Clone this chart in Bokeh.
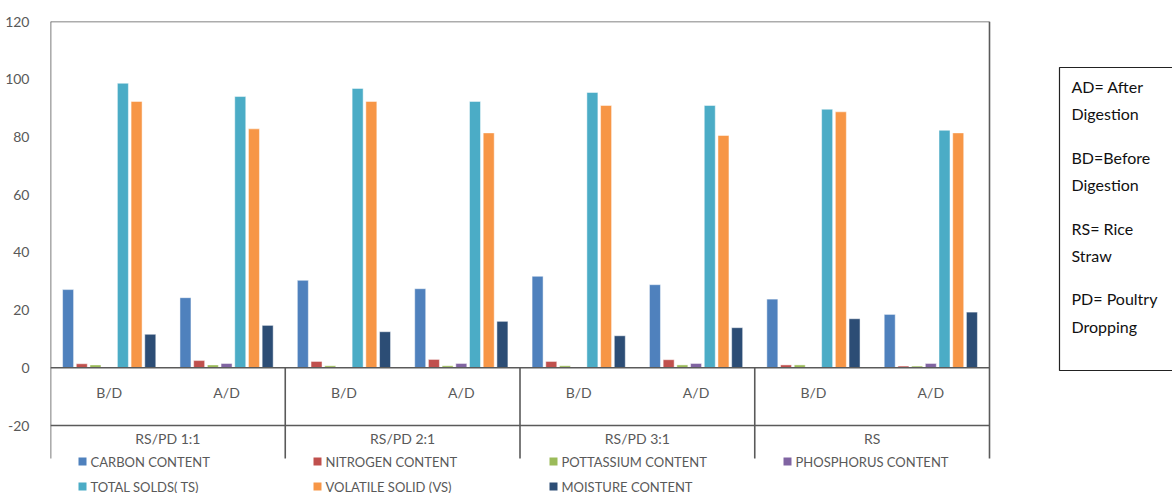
from bokeh.plotting import figure
from bokeh.models import Range1d, FixedTicker, ColumnDataSource
from bokeh.core.properties import value
from bokeh.embed import file_html
from bokeh.resources import INLINE

# --- data -------------------------------------------------------------
groups = ["RS/PD 1:1", "RS/PD 2:1", "RS/PD 3:1", "RS"]
stages = ["B/D", "A/D"]
series_names = ["CARBON CONTENT", "NITROGEN CONTENT", "POTTASSIUM CONTENT",
                "PHOSPHORUS CONTENT", "TOTAL SOLDS( TS)", "VOLATILE SOLID (VS)",
                "MOISTURE CONTENT"]
carbon = [27.1, 24.3, 30.3, 27.4, 31.7, 28.8, 23.8, 18.5]
nitrogen = [1.4, 2.5, 2.2, 2.9, 2.2, 2.8, 1.0, 0.6]
potassium = [1.0, 1.0, 0.7, 0.7, 0.7, 1.0, 1.0, 0.6]
phosphorus = [0.0, 1.5, 0.0, 1.5, 0.0, 1.5, 0.0, 1.5]
total_solids = [98.6, 94.0, 96.8, 92.3, 95.4, 90.9, 89.6, 82.3]
volatile_solids = [92.3, 82.8, 92.3, 81.4, 90.9, 80.5, 88.7, 81.4]
moisture = [11.6, 14.7, 12.5, 16.1, 11.1, 13.9, 17.0, 19.3]
y_ticks = [-20, 0, 20, 40, 60, 80, 100, 120]
notes = ["AD= After", "Digestion", "BD=Before", "Digestion",
         "RS= Rice", "Straw", "PD= Poultry", "Dropping"]

series = [carbon, nitrogen, potassium, phosphorus, total_solids,
          volatile_solids, moisture]
colors = ["#4F81BD", "#C0504D", "#9BBB59", "#8064A2", "#4BACC6",
          "#F79646", "#2C4D75"]

# --- layout helpers (pixel -> data) -----------------------------------
W, H = 1172, 493
LEFT, RIGHT_PX, TOP, ZERO_PX = 50, 989, 21, 367.3
GROUP_PX = (RIGHT_PX - LEFT) / 8.0
PX_PER_UNIT = (ZERO_PX - TOP) / 120.0


def dx(px):
    return (px - LEFT) / GROUP_PX


def dy(py):
    return (ZERO_PX - py) / PX_PER_UNIT


x_end = dx(W)
y_start = dy(H)

p = figure(width=W, height=H, output_backend="svg", toolbar_location=None,
           x_range=Range1d(0, x_end), y_range=Range1d(y_start, 120),
           min_border_left=LEFT, min_border_right=0, min_border_top=TOP,
           min_border_bottom=0)
p.outline_line_color = None
p.xgrid.visible = False
p.ygrid.visible = False
p.xaxis.visible = False
p.background_fill_color = "white"
p.border_fill_color = "white"

ax = p.yaxis[0]
ax.ticker = FixedTicker(ticks=y_ticks)
ax.major_label_overrides = {t: str(t) for t in y_ticks}
ax.axis_line_color = None
ax.major_tick_line_color = None
ax.minor_tick_line_color = None
ax.major_label_standoff = 15
ax.major_label_text_font = "Lato"
ax.major_label_text_font_size = "14px"
ax.major_label_text_color = "#595959"

# --- bars -------------------------------------------------------------
n_series = len(series)
step = 13.7 / GROUP_PX
bar_w = 11.0 / GROUP_PX
for k, (vals, col) in enumerate(zip(series, colors)):
    xs = [i + 0.5 + (k - (n_series - 1) / 2) * step for i in range(len(vals))]
    src = ColumnDataSource(dict(x=xs, top=vals))
    p.vbar(x="x", top="top", bottom=0, width=bar_w, source=src,
           fill_color=col, line_color="white", line_alpha=0.6, line_width=0.8)

# --- frame and category table ------------------------------------------
line_col = "#5a5a5a"
bottom_y = dy(458)
p.segment(x0=[0, 0, 8], y0=[120, bottom_y, bottom_y], x1=[8, 0, 8],
          y1=[120, 120, 120], line_color=line_col, line_width=1.6)
p.segment(x0=[0, 0], y0=[0, -20], x1=[8, 8], y1=[0, -20],
          line_color=line_col, line_width=1.6)
p.segment(x0=[2, 4, 6], y0=[0, 0, 0], x1=[2, 4, 6],
          y1=[bottom_y] * 3, line_color=line_col, line_width=1.6)

stage_x = [i + 0.5 for i in range(8)]
stage_txt = [stages[i % 2] for i in range(8)]
p.text(x=stage_x, y=[dy(392)] * 8, text=stage_txt, text_align="center",
       text_baseline="middle", text_font=value("Lato"),
       text_font_size="14px", text_color="#595959")
p.text(x=[2 * g + 1 for g in range(len(groups))], y=[dy(438)] * len(groups),
       text=groups, text_align="center", text_baseline="middle",
       text_font=value("Lato"), text_font_size="14px", text_color="#595959")

# --- legend -----------------------------------------------------------
leg_sq_px = [82, 317, 553, 787]
leg_rows_px = [461, 486]
for k, (name, col) in enumerate(zip(series_names, colors)):
    row, colm = divmod(k, 4)
    sx = leg_sq_px[colm]
    sy = leg_rows_px[row]
    p.quad(left=[dx(sx - 4)], right=[dx(sx + 4)], bottom=[dy(sy + 4)],
           top=[dy(sy - 4)], fill_color=col, line_color=None)
    p.text(x=[dx(sx + 8)], y=[dy(sy)], text=[name], text_align="left",
           text_baseline="middle", text_font=value("Lato"),
           text_font_size="13px", text_color="#595959")

# --- abbreviation box ------------------------------------------------------
p.quad(left=[dx(1059)], right=[dx(1200)], bottom=[dy(370)], top=[dy(67)],
       fill_color="white", line_color="#222222", line_width=1.2)
note_rows = [86, 113, 157, 184, 228, 255, 298, 326]
p.text(x=[dx(1071)] * len(notes), y=[dy(r) for r in note_rows], text=notes,
       text_align="left", text_baseline="middle", text_font=value("Lato"),
       text_font_size="16px", text_color="#111111")

open("out.html", "w").write(file_html(p, INLINE))
